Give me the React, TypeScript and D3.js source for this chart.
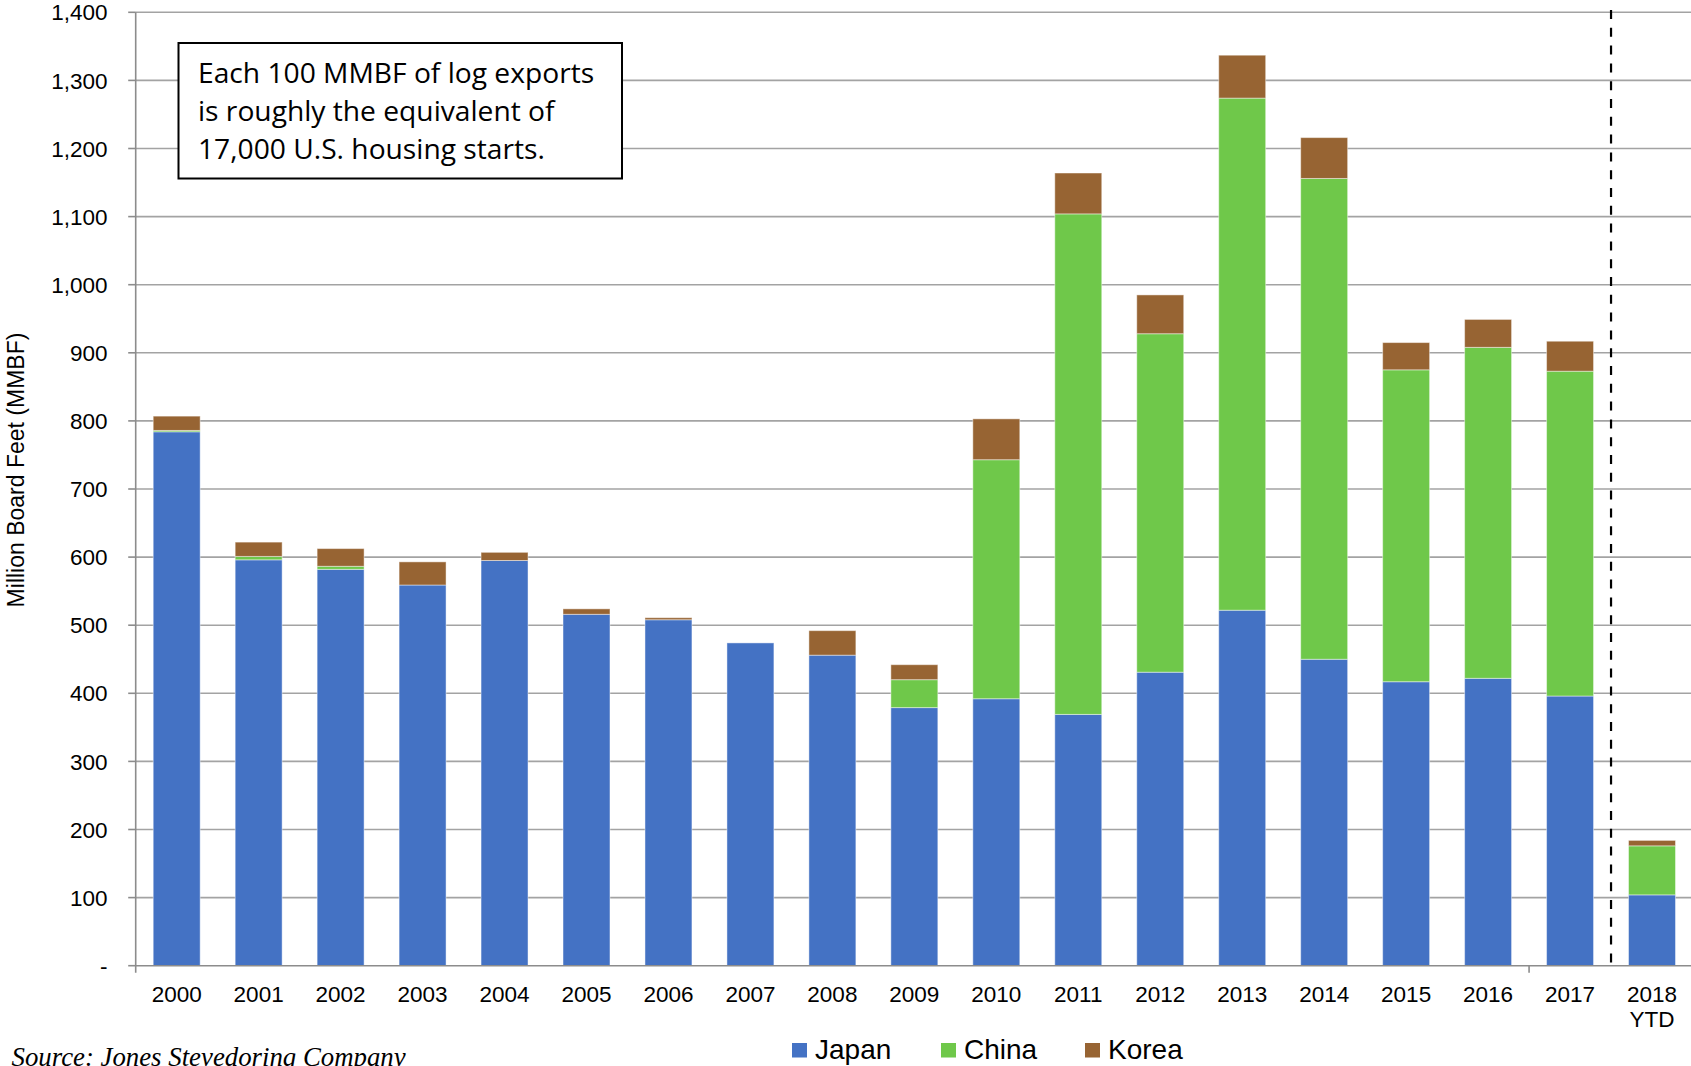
import React from "react";
import * as d3 from "d3";

const categories = ["2000","2001","2002","2003","2004","2005","2006","2007","2008","2009","2010","2011","2012","2013","2014","2015","2016","2017","2018 YTD"];
const japan = [784, 596, 582, 559, 595, 516, 508, 474, 456, 379, 392, 369, 431, 522, 450, 417, 422, 396, 104];
const china = [2, 5, 4.5, 0, 0, 0, 0, 0, 0, 41, 351, 735, 497, 752, 706, 458, 486, 477, 72];
const korea = [21, 21, 26, 34, 12, 8, 3, 0, 36, 22, 60, 60, 57, 63, 60, 40, 41, 44, 8];
const seriesNames = ["Japan", "China", "Korea"];
const seriesColors = ["#4472C4", "#6FC84A", "#976433"];
const yTicks = [0, 100, 200, 300, 400, 500, 600, 700, 800, 900, 1000, 1100, 1200, 1300, 1400];
const noteLines = ["Each 100 MMBF of log exports", "is roughly the equivalent of", "17,000 U.S. housing starts."];

const W = 1691, H = 1066;
const left = 135.7, right = 1693, top = 12.3, bottom = 965.7;

export default function App() {
  const x = d3.scaleBand<string>().domain(categories).range([left, right]).paddingInner(0.427).paddingOuter(0.2135);
  const y = d3.scaleLinear().domain([0, 1400]).range([bottom, top]);
  const rows = categories.map((c, i) => ({ cat: c, Japan: japan[i], China: china[i], Korea: korea[i] }));
  const stacked = d3.stack<any>().keys(seriesNames)(rows);
  const fmt = d3.format(",");
  const step = x.step();
  const dashX = (x(categories[17])! + x(categories[18])! + x.bandwidth()) / 2;
  const axisFont = "'Liberation Sans', Arial, sans-serif";

  return (
    <svg width={W} height={H} style={{ position: "absolute", left: 0, top: 0, display: "block", background: "#fff" }}>
      <rect x={0} y={0} width={W} height={H} fill="#fff" />
      {yTicks.filter(t => t > 0).map(t => (
        <line key={t} x1={left} x2={W} y1={y(t)} y2={y(t)} stroke="#A3A3A3" strokeWidth={1.6} />
      ))}
      {stacked.map((s, si) => (
        <g key={s.key} fill={seriesColors[si]}>
          {s.map((d, i) => {
            const h = y(d[0]) - y(d[1]);
            if (h <= 0) return null;
            return (
              <rect key={i} x={x(categories[i])} y={y(d[1])} width={x.bandwidth()} height={h}
                stroke="#ffffff" strokeOpacity={0.45} strokeWidth={1} />
            );
          })}
        </g>
      ))}
      <line x1={left} x2={left} y1={top} y2={bottom + 7} stroke="#8C8C8C" strokeWidth={1.6} />
      <line x1={left} x2={W} y1={bottom} y2={bottom} stroke="#8C8C8C" strokeWidth={1.6} />
      <line x1={left + 17 * step} x2={left + 17 * step} y1={bottom} y2={bottom + 7} stroke="#8C8C8C" strokeWidth={1.6} />
      {yTicks.map(t => (
        <g key={"yt" + t}>
          <line x1={left - 7.5} x2={left} y1={y(t)} y2={y(t)} stroke="#8C8C8C" strokeWidth={1.6} />
          <text x={107.5} y={y(t)} dy="0.36em" textAnchor="end" fontFamily={axisFont} fontSize={22.5} fill="#000">
            {t === 0 ? "-" : fmt(t)}
          </text>
        </g>
      ))}
      {categories.map(c => {
        const cx = x(c)! + x.bandwidth() / 2;
        const parts = c.split(" ");
        return (
          <text key={"xl" + c} x={cx} y={1002} textAnchor="middle" fontFamily={axisFont} fontSize={22.5} fill="#000">
            {parts.map((p, k) => (
              <tspan key={k} x={cx} dy={k === 0 ? 0 : 25}>{p}</tspan>
            ))}
          </text>
        );
      })}
      <line x1={dashX} x2={dashX} y1={10} y2={bottom} stroke="#000" strokeWidth={2.2} strokeDasharray="9 8.8" />
      <text transform="translate(23.5,470) rotate(-90)" textAnchor="middle" fontFamily={axisFont} fontSize={23} fill="#000">
        Million Board Feet (MMBF)
      </text>
      <rect x={178.5} y={43} width={443.5} height={135.5} fill="#fff" stroke="#000" strokeWidth={2} />
      {noteLines.map((l, i) => (
        <text key={"n" + i} x={198} y={83 + i * 38} fontFamily="'Open Sans', 'Noto Sans', sans-serif" fontSize={28.2} fill="#000">{l}</text>
      ))}
      {seriesNames.map((n, i) => {
        const lx = [792, 941, 1085][i];
        return (
          <g key={"lg" + n}>
            <rect x={lx} y={1043} width={15} height={14.5} fill={seriesColors[i]} />
            <text x={lx + 23} y={1059} fontFamily={axisFont} fontSize={28} fill="#000">{n}</text>
          </g>
        );
      })}
      <text x={11.5} y={1066} fontFamily="'Liberation Serif', 'Times New Roman', serif" fontStyle="italic" fontSize={26.8} fill="#000">
        Source: Jones Stevedoring Company
      </text>
    </svg>
  );
}
